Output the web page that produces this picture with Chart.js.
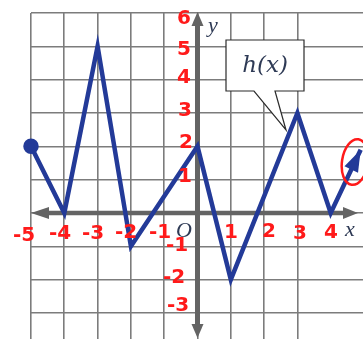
<!DOCTYPE html>
<html>
<head>
<meta charset="utf-8">
<script src="https://cdn.jsdelivr.net/npm/chart.js@4.4.1/dist/chart.umd.min.js"></script>
<style>
  html, body { margin: 0; padding: 0; background: #ffffff; }
  #wrap { width: 363px; height: 339px; position: relative; }
</style>
</head>
<body>
<div id="wrap"><canvas id="c" width="363" height="339"></canvas></div>
<script>
// ---- data ----
const xValues = [-5, -4, -3, -2, 0, 1, 3, 4, 4.9];
const yValues = [2, 0, 5, -1, 2, -2, 3, 0, 1.9];
// handwritten tick labels
const xTickLabels = ['-5', '-4', '-3', '-2', '-1', '1', '2', '3', '4'];
const xTickValues = [-5, -4, -3, -2, -1, 1, 2, 3, 4];
const yTickLabels = ['6', '5', '4', '3', '2', '1', '-1', '-2', '-3'];
const yTickValues = [6, 5, 4, 3, 2, 1, -1, -2, -3];
const functionLabel = 'h(x)';

const points = xValues.map((x, i) => ({ x: x, y: yValues[i] }));

const BLUE = '#233a98';
const AXIS = '#646464';
const RED = '#ff1a1a';

function arrowHead(ctx, tx, ty, fx, fy, len, half, color) {
  const a = Math.atan2(ty - fy, tx - fx);
  ctx.save();
  ctx.fillStyle = color;
  ctx.beginPath();
  ctx.moveTo(tx, ty);
  ctx.lineTo(tx - len * Math.cos(a) + half * Math.sin(a), ty - len * Math.sin(a) - half * Math.cos(a));
  ctx.lineTo(tx - len * Math.cos(a) - half * Math.sin(a), ty - len * Math.sin(a) + half * Math.cos(a));
  ctx.closePath();
  ctx.fill();
  ctx.restore();
}

const axesPlugin = {
  id: 'axesPlugin',
  beforeDatasetsDraw(chart) {
    const { ctx, scales } = chart;
    const xs = scales.x, ys = scales.y;
    const x0 = xs.getPixelForValue(0);
    const y0 = ys.getPixelForValue(0);
    const top = ys.getPixelForValue(6);
    const bottom = chart.height - 1;
    const left = xs.getPixelForValue(-5);
    const right = 358;
    ctx.save();
    ctx.strokeStyle = AXIS;
    ctx.lineWidth = 5;
    ctx.beginPath();
    ctx.moveTo(x0, top + 10);
    ctx.lineTo(x0, bottom - 10);
    ctx.stroke();
    ctx.lineWidth = 4.5;
    ctx.beginPath();
    ctx.moveTo(left + 12, y0);
    ctx.lineTo(right - 10, y0);
    ctx.stroke();
    ctx.restore();
    arrowHead(ctx, x0, top - 1, x0, top + 20, 14, 6, AXIS);
    arrowHead(ctx, x0, bottom, x0, bottom - 20, 14, 6, AXIS);
    arrowHead(ctx, left, y0, left + 20, y0, 18, 6, AXIS);
    arrowHead(ctx, right, y0, right - 20, y0, 15, 6, AXIS);
  },
  afterDatasetsDraw(chart) {
    const { ctx, scales } = chart;
    const xs = scales.x, ys = scales.y;
    // arrow at the end of the graph
    const n = points.length;
    const tx = xs.getPixelForValue(points[n - 1].x), ty = ys.getPixelForValue(points[n - 1].y);
    const fx = xs.getPixelForValue(points[n - 2].x), fy = ys.getPixelForValue(points[n - 2].y);
    arrowHead(ctx, tx, ty, fx, fy, 22, 7.5, BLUE);

    // callout box with h(x)
    ctx.save();
    ctx.fillStyle = '#ffffff';
    ctx.strokeStyle = '#2b2b2b';
    ctx.lineWidth = 1.2;
    ctx.beginPath();
    ctx.moveTo(226, 40);
    ctx.lineTo(304, 40);
    ctx.lineTo(304, 91);
    ctx.lineTo(275, 91);
    ctx.lineTo(286, 130);
    ctx.lineTo(254, 91);
    ctx.lineTo(226, 91);
    ctx.closePath();
    ctx.fill();
    ctx.stroke();
    ctx.fillStyle = '#2e3a55';
    ctx.font = 'italic 23px "DejaVu Serif", "Liberation Serif", serif';
    ctx.textAlign = 'center';
    ctx.textBaseline = 'middle';
    ctx.fillText(functionLabel, 265, 66);

    // axis letters and origin
    ctx.font = 'italic 22px "Liberation Serif", "DejaVu Serif", serif';
    ctx.fillStyle = '#2e3a55';
    ctx.fillText('y', 213, 26);
    ctx.fillText('x', 350, 230);
    ctx.fillText('O', 184, 231);

    // handwritten red tick labels
    ctx.fillStyle = RED;
    ctx.font = 'bold 20px "DejaVu Sans", "Liberation Sans", sans-serif';
    const xLabelPos = [[24, 236], [60, 234], [93, 234], [126, 233], [160, 233], [231, 233], [269, 232], [300, 234], [331, 233]];
    xTickValues.forEach((v, i) => {
      ctx.fillText(xTickLabels[i], xLabelPos[i][0], xLabelPos[i][1]);
    });
    const yLabelPos = [[184, 19], [184, 50], [184, 78], [185, 111], [186, 143], [185, 177], [177, 246], [174, 278], [178, 306]];
    yTickValues.forEach((v, i) => {
      ctx.fillText(yTickLabels[i], yLabelPos[i][0], yLabelPos[i][1]);
    });

    // red circle around the arrow
    ctx.strokeStyle = RED;
    ctx.lineWidth = 2.5;
    ctx.beginPath();
    ctx.ellipse(355, 162, 13, 23, 0.15, 0, Math.PI * 2);
    ctx.stroke();
    ctx.restore();
  }
};

new Chart(document.getElementById('c'), {
  type: 'scatter',
  data: {
    datasets: [{
      data: points,
      showLine: true,
      borderColor: BLUE,
      backgroundColor: BLUE,
      borderWidth: 4.5,
      pointRadius: ctx => ctx.dataIndex === 0 ? 5.5 : 0,
      pointHoverRadius: 0,
      tension: 0,
      clip: false
    }]
  },
  options: {
    responsive: false,
    animation: false,
    events: [],
    layout: { autoPadding: false, padding: { left: 31, top: 13, right: 0, bottom: 0 } },
    plugins: { legend: { display: false }, tooltip: { enabled: false } },
    scales: {
      x: {
        type: 'linear',
        min: -5,
        max: 4.97,
        afterBuildTicks: s => { s.ticks = s.ticks.filter(t => Number.isInteger(t.value)); },
        ticks: { display: false, stepSize: 1 },
        border: { display: false },
        grid: { color: '#7c7c7c', lineWidth: 1.6, drawTicks: false }
      },
      y: {
        type: 'linear',
        min: -3.78,
        max: 6,
        afterBuildTicks: s => { s.ticks = s.ticks.filter(t => Number.isInteger(t.value)); },
        ticks: { display: false, stepSize: 1 },
        border: { display: false },
        grid: { color: '#7c7c7c', lineWidth: 1.6, drawTicks: false }
      }
    }
  },
  plugins: [axesPlugin]
});
</script>
</body>
</html>
